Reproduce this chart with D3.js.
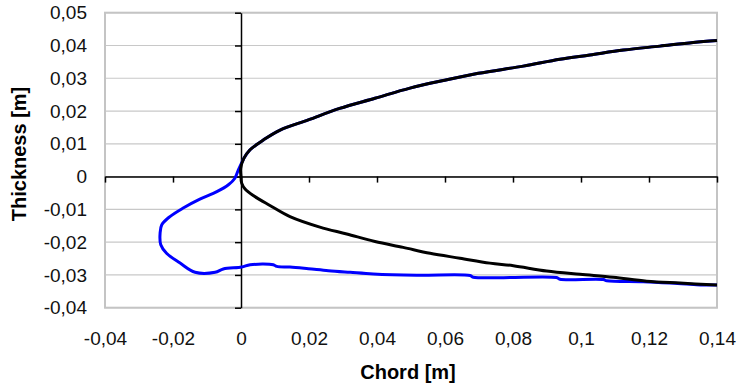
<!DOCTYPE html>
<html>
<head>
<meta charset="utf-8">
<script src="https://cdn.jsdelivr.net/npm/d3@7"></script>
<style>
  body { margin: 0; background: #fff; }
  svg { display: block; font-family: "Liberation Sans", Arial, sans-serif; }
</style>
</head>
<body>
<div id="chart"></div>
<script>
// tick values
const xTicks = [-0.04, -0.02, 0, 0.02, 0.04, 0.06, 0.08, 0.1, 0.12, 0.14];
const yTicks = [0.05, 0.04, 0.03, 0.02, 0.01, 0, -0.01, -0.02, -0.03, -0.04];

// black profile, upper surface (leading edge -> trailing edge)
const blackUpperX = [0, -0.0001, 0.0008, 0.0026, 0.0066, 0.0115, 0.0198, 0.029, 0.0394, 0.0497, 0.0595, 0.0698, 0.083, 0.0938, 0.1026, 0.1125, 0.1232, 0.133, 0.14];
const blackUpperY = [0, 0.0025, 0.0055, 0.0081, 0.0112, 0.0142, 0.0173, 0.0208, 0.0239, 0.027, 0.0293, 0.0315, 0.0337, 0.0358, 0.0371, 0.0386, 0.0398, 0.0409, 0.0415];

// black profile, lower surface
const blackLowerX = [0, 0.0002, 0.0012, 0.0036, 0.0085, 0.0144, 0.0232, 0.0311, 0.0394, 0.0477, 0.0556, 0.0644, 0.0732, 0.0801, 0.0899, 0.0997, 0.1095, 0.1193, 0.1291, 0.14];
const blackLowerY = [0, -0.002, -0.0038, -0.0058, -0.0088, -0.0122, -0.0154, -0.0175, -0.0198, -0.0216, -0.0234, -0.0249, -0.0264, -0.0272, -0.0288, -0.0298, -0.0307, -0.0319, -0.0325, -0.0331];

// blue profile, upper surface follows the black one
const blueUpperX = blackUpperX.slice(2);
const blueUpperY = blackUpperY.slice(2);

// blue profile, lower surface (iced leading edge)
const blueLowerX = [0.0008, -0.0008, -0.0018, -0.0037, -0.0071, -0.0121, -0.017, -0.0209, -0.0233, -0.0238, -0.0236, -0.0219, -0.0179, -0.0135, -0.0076, -0.0052, 0.0002, 0.0027, 0.0095, 0.0105, 0.0144, 0.0198, 0.0257, 0.0321, 0.0389, 0.0517, 0.0674, 0.0683, 0.0928, 0.0938, 0.1066, 0.1076, 0.1183, 0.1262, 0.134, 0.14];
const blueLowerY = [0.0055, 0.002, -0.0005, -0.0025, -0.0046, -0.0069, -0.0096, -0.0122, -0.0147, -0.0173, -0.0208, -0.0234, -0.0264, -0.0292, -0.0292, -0.0282, -0.0276, -0.0269, -0.0269, -0.0274, -0.0276, -0.0281, -0.0287, -0.0292, -0.0297, -0.0301, -0.0302, -0.0307, -0.0308, -0.0313, -0.0314, -0.0318, -0.0321, -0.0325, -0.033, -0.0331];

const width = 737, height = 387;
const plot = { left: 105, right: 717, top: 12.7, bottom: 307.7 };
const comma = d => String(+d.toFixed(4)).replace('.', ',');

const svg = d3.select("#chart")
  .append("svg")
  .attr("width", width)
  .attr("height", height);

const x = d3.scaleLinear().domain([-0.04, 0.14]).range([plot.left, plot.right]);
const y = d3.scaleLinear().domain([-0.04, 0.05]).range([plot.bottom, plot.top]);

// horizontal gridlines
svg.append("g")
   .selectAll("line")
   .data(yTicks)
   .enter()
   .append("line")
   .attr("x1", plot.left)
   .attr("x2", plot.right)
   .attr("y1", d => y(d))
   .attr("y2", d => y(d))
   .attr("stroke", "#c8c8c8")
   .attr("stroke-width", 1.2);

// plot frame
svg.append("rect")
   .attr("x", plot.left)
   .attr("y", plot.top)
   .attr("width", plot.right - plot.left)
   .attr("height", plot.bottom - plot.top)
   .attr("fill", "none")
   .attr("stroke", "#c4c4c4")
   .attr("stroke-width", 2);

// tick labels at the frame edges
svg.append("g")
   .attr("transform", `translate(${plot.left}, 0)`)
   .call(d3.axisLeft(y).tickValues(yTicks).tickFormat(comma).tickSize(0).tickPadding(18))
   .call(g => g.select(".domain").remove())
   .selectAll("text")
   .style("font-size", "19px")
   .attr("fill", "#111");

svg.append("g")
   .attr("transform", `translate(0, ${plot.bottom})`)
   .call(d3.axisBottom(x).tickValues(xTicks).tickFormat(comma).tickSize(0).tickPadding(24))
   .call(g => g.select(".domain").remove())
   .selectAll("text")
   .style("font-size", "19px")
   .attr("fill", "#111");

// axes crossing at zero
svg.append("g")
   .attr("transform", `translate(${x(0)}, 0)`)
   .call(d3.axisLeft(y).tickValues(yTicks).tickFormat("").tickSize(6).tickSizeOuter(0))
   .call(g => g.selectAll("line, path").attr("stroke", "#000").attr("stroke-width", 1.5));

svg.append("g")
   .attr("transform", `translate(0, ${y(0)})`)
   .call(d3.axisBottom(x).tickValues(xTicks).tickFormat("").tickSize(6).tickSizeOuter(0))
   .call(g => g.selectAll("line, path").attr("stroke", "#000").attr("stroke-width", 1.5));

// profiles
const line = d3.line()
  .x(d => x(d[0]))
  .y(d => y(d[1]))
  .curve(d3.curveCatmullRom.alpha(0.5));
const zip = (xs, ys) => xs.map((v, i) => [v, ys[i]]);

const series = [
  { color: "#0000ff", upper: zip(blueUpperX, blueUpperY), lower: zip(blueLowerX, blueLowerY) },
  { color: "#000000", upper: zip(blackUpperX, blackUpperY), lower: zip(blackLowerX, blackLowerY) }
];

series.forEach(s => {
  [s.upper, s.lower].forEach(pts => {
    svg.append("path")
       .datum(pts)
       .attr("d", line)
       .attr("fill", "none")
       .attr("stroke", s.color)
       .attr("stroke-width", 3)
       .attr("stroke-linejoin", "round");
  });
});

// axis titles
svg.append("text")
   .attr("transform", "translate(26, 154) rotate(-90)")
   .attr("text-anchor", "middle")
   .style("font-size", "20px")
   .style("font-weight", "bold")
   .text("Thickness [m]");

svg.append("text")
   .attr("x", 408)
   .attr("y", 379)
   .attr("text-anchor", "middle")
   .style("font-size", "20px")
   .style("font-weight", "bold")
   .text("Chord [m]");
</script>
</body>
</html>
